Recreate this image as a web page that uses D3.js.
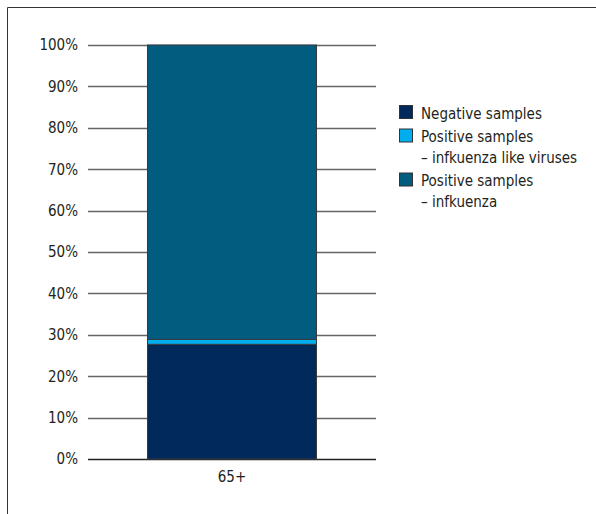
<!DOCTYPE html>
<html>
<head>
<meta charset="utf-8">
<script src="https://cdn.jsdelivr.net/npm/d3@7"></script>
<style>
  body { margin: 0; background: #fff; }
  svg { display: block; }
  svg text { font-family: "DejaVu Sans Condensed", "DejaVu Sans", sans-serif; font-stretch: condensed; }
</style>
</head>
<body>
<svg id="chart" width="596" height="514"></svg>
<script>
// Age group and sample shares (%)
const categories = ["65+"];
const negativeSamples = [27.7];
const positiveInfluenzaLike = [1.2];
const positiveInfluenza = [71.1];
const seriesNames = ["Negative samples", "Positive samples\n\u2013 infkuenza like viruses", "Positive samples\n\u2013 infkuenza"];
const seriesColors = ["#012a5a", "#00aeef", "#015c80"];
const yTicks = [0, 10, 20, 30, 40, 50, 60, 70, 80, 90, 100];

const svg = d3.select("#chart");
const textColor = "#231f20";

// frame lines (top and left)
svg.append("line").attr("x1", 7.5).attr("x2", 596).attr("y1", 7.5).attr("y2", 7.5).attr("stroke", "#333").attr("stroke-width", 1);
svg.append("line").attr("x1", 7.5).attr("x2", 7.5).attr("y1", 7.5).attr("y2", 514).attr("stroke", "#333").attr("stroke-width", 1);

const plot = { left: 88, right: 376, top: 45, bottom: 459 };

const y = d3.scaleLinear().domain([0, 100]).range([plot.bottom, plot.top]);
const x = d3.scaleBand().domain(categories).range([plot.left, plot.right]).paddingInner(0).paddingOuter(0.352);

// gridlines
svg.append("g").selectAll("line").data(yTicks).join("line")
  .attr("x1", plot.left).attr("x2", plot.right)
  .attr("y1", d => Math.round(y(d)) + 0.5).attr("y2", d => Math.round(y(d)) + 0.5)
  .attr("stroke", d => d === 0 ? "#222" : "#666").attr("stroke-width", 1.3);

// y-axis labels
const yAxis = d3.axisLeft(y).tickValues(yTicks).tickFormat(d => d + "%").tickSize(0).tickPadding(0);
const ya = svg.append("g").attr("transform", `translate(${plot.left - 10},0)`).call(yAxis)
  .attr("font-family", null).attr("font-size", null);
ya.select(".domain").remove();
ya.selectAll("text").attr("font-size", 15).attr("fill", textColor);

// stacked bars
const rows = categories.map((c, i) => ({ cat: c, neg: negativeSamples[i], ili: positiveInfluenzaLike[i], flu: positiveInfluenza[i] }));
const stack = d3.stack().keys(["neg", "ili", "flu"])(rows);
svg.append("g").selectAll("g").data(stack).join("g")
  .attr("fill", (d, i) => seriesColors[i])
  .selectAll("rect").data(d => d).join("rect")
  .attr("x", d => x(d.data.cat))
  .attr("width", x.bandwidth())
  .attr("y", d => y(d[1]))
  .attr("height", d => y(d[0]) - y(d[1]))
  .attr("stroke", "#3a3a3a").attr("stroke-width", 1);

// x-axis labels
const xAxis = d3.axisBottom(x).tickSize(0).tickPadding(0);
const xa = svg.append("g").attr("transform", `translate(0,${plot.bottom + 12})`).call(xAxis)
  .attr("font-family", null).attr("font-size", null);
xa.select(".domain").remove();
xa.selectAll("text").attr("font-size", 15).attr("fill", textColor);

// legend
const legend = svg.append("g").attr("transform", "translate(399,105)");
const lineHeight = 20.5;
let yOff = 0;
seriesNames.forEach((name, i) => {
  const g = legend.append("g").attr("transform", `translate(0,${yOff})`);
  g.append("rect").attr("x", 0.5).attr("y", 0.5).attr("width", 13).attr("height", 13)
    .attr("fill", seriesColors[i]).attr("stroke", "#333").attr("stroke-width", 1);
  const lines = name.split("\n");
  lines.forEach((ln, j) => {
    g.append("text").attr("x", 22).attr("y", 13.5 + j * lineHeight)
      .attr("font-size", 15).attr("fill", textColor).text(ln);
  });
  yOff += lines.length * lineHeight + 3;
});
</script>
</body>
</html>
